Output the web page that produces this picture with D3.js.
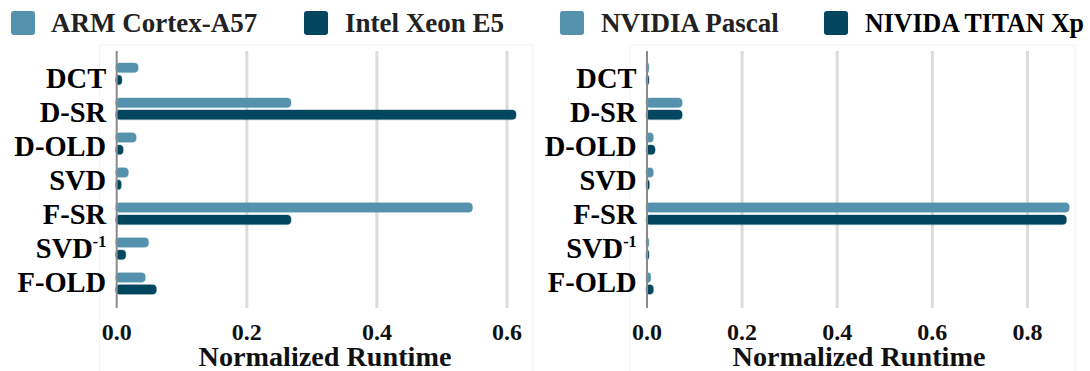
<!DOCTYPE html>
<html>
<head>
<meta charset="utf-8">
<script src="https://cdn.jsdelivr.net/npm/d3@7"></script>
<style>
  html, body { margin: 0; padding: 0; background: #fff; }
  svg { display: block; }
  text { font-family: "Liberation Serif", "DejaVu Serif", serif; font-weight: bold; }
</style>
</head>
<body>
<svg id="chart" width="1090" height="371"></svg>
<script>
// ---- data ----
const categories = ["DCT", "D-SR", "D-OLD", "SVD", "F-SR", "SVD-1", "F-OLD"];
const armValues    = [0.033, 0.268, 0.030, 0.018, 0.547, 0.049, 0.044];
const xeonValues   = [0.008, 0.614, 0.010, 0.007, 0.268, 0.014, 0.061];
const pascalValues = [0.004, 0.074, 0.0135, 0.0135, 0.888, 0.004, 0.008];
const titanValues  = [0.004, 0.074, 0.017, 0.005, 0.882, 0.004, 0.0135];
const leftTicks  = [0, 0.2, 0.4, 0.6];
const rightTicks = [0, 0.2, 0.4, 0.6, 0.8];
const legendLabels = ["ARM Cortex-A57", "Intel Xeon E5", "NVIDIA Pascal", "NIVIDA TITAN Xp"];
const axisTitle = "Normalized Runtime";

const LIGHT = "#5492ad";
const DARK = "#02465f";

const svg = d3.select("#chart");

// ---- legend ----
const legendItems = [
  { label: legendLabels[0], color: LIGHT, sx: 11, tx: 51, tc: "#222", len: null },
  { label: legendLabels[1], color: DARK,  sx: 304, tx: 345, tc: "#222", len: null },
  { label: legendLabels[2], color: LIGHT, sx: 560, tx: 601, tc: "#222", len: null },
  { label: legendLabels[3], color: DARK,  sx: 824, tx: 865, tc: "#000", len: 219 }
];
const lg = svg.append("g");
lg.selectAll("rect").data(legendItems).join("rect")
  .attr("x", d => d.sx).attr("y", 11).attr("width", 24).attr("height", 24)
  .attr("rx", 3).attr("fill", d => d.color);
lg.selectAll("text").data(legendItems).join("text")
  .attr("x", d => d.tx).attr("y", 32)
  .attr("font-size", 27).attr("fill", d => d.tc)
  .each(function(d) {
    if (d.len) d3.select(this).attr("textLength", d.len).attr("lengthAdjust", "spacingAndGlyphs");
  })
  .text(d => d.label);

function panel(opts) {
  const { x, series, ticks, labelX } = opts;
  const y = d3.scaleBand().domain(categories).range([56.3, 301]).paddingInner(0);
  const yLab = d3.scalePoint().domain(categories).range([79.2, 282.5]);
  const g = svg.append("g");

  // faint frame
  g.append("rect")
    .attr("x", x.range()[0] - 17).attr("y", 45)
    .attr("width", x.range()[1] - x.range()[0] + 17).attr("height", 340)
    .attr("fill", "none").attr("stroke", "#f3f3f3").attr("stroke-width", 1);

  // gridlines
  g.selectAll("line.grid").data(ticks.filter(t => t > 0)).join("line")
    .attr("class", "grid")
    .attr("x1", d => x(d)).attr("x2", d => x(d))
    .attr("y1", 51).attr("y2", 308)
    .attr("stroke", "#dcdcdc").attr("stroke-width", 3);

  // bars
  const barH = 9.5;
  series.forEach((s, si) => {
    const off = si === 0 ? -6.1 : 6.1;
    g.selectAll(null).data(s.values).join("rect")
      .attr("x", x(0) - 1)
      .attr("y", (d, i) => y(categories[i]) + y.bandwidth() / 2 + off - barH / 2)
      .attr("width", d => Math.max(x(d) - x(0) + 1, 2.5))
      .attr("height", barH)
      .attr("rx", 4).attr("ry", 4)
      .attr("fill", s.color)
      .attr("stroke", s.color).attr("stroke-opacity", 0.25).attr("stroke-width", 1.5);
  });

  // y axis line
  g.append("line")
    .attr("x1", x(0)).attr("x2", x(0)).attr("y1", 51).attr("y2", 308)
    .attr("stroke", "#8a8a8a").attr("stroke-width", 2);

  // category labels
  const lab = g.selectAll("text.cat").data(categories).join("text")
    .attr("class", "cat")
    .attr("x", x(0) - 10.5)
    .attr("y", d => yLab(d) + 9.2)
    .attr("text-anchor", "end")
    .attr("font-size", 28.5).attr("fill", "#000");
  lab.each(function(d) {
    const t = d3.select(this);
    if (d === "SVD-1") {
      t.append("tspan").text("SVD");
      t.append("tspan").attr("dy", -11).attr("font-size", 16).text("-1");
    } else {
      t.text(d);
    }
  });

  // x tick labels
  g.selectAll("text.tick").data(ticks).join("text")
    .attr("class", "tick")
    .attr("x", d => x(d)).attr("y", 339.5)
    .attr("text-anchor", "middle")
    .attr("font-size", 24).attr("fill", "#111")
    .text(d => d3.format(".1f")(d));

  // x title
  g.append("text")
    .attr("x", labelX).attr("y", 366)
    .attr("text-anchor", "middle")
    .attr("font-size", 28.2).attr("fill", "#111")
    .text(axisTitle);
}

const xLeft = d3.scaleLinear().domain([0, 0.64]).range([116.7, 533]);
const xRight = d3.scaleLinear().domain([0, 0.9]).range([647, 1075]);

panel({
  x: xLeft,
  series: [{ values: armValues, color: LIGHT }, { values: xeonValues, color: DARK }],
  ticks: leftTicks,
  labelX: 325
});
panel({
  x: xRight,
  series: [{ values: pascalValues, color: LIGHT }, { values: titanValues, color: DARK }],
  ticks: rightTicks,
  labelX: 859
});
</script>
</body>
</html>
